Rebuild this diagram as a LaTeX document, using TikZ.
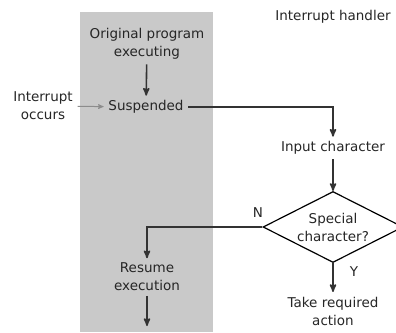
\documentclass[tikz,border=0pt]{standalone}
\usepackage{fontspec}
\setmainfont{DejaVu Sans}
\usetikzlibrary{arrows,shapes.geometric}

\begin{document}
\begin{tikzpicture}[->,>=stealth',x=1pt,y=-1pt,line width=1.6pt,color=black!80,
                    font=\fontsize{13.5}{18}\selectfont]
    \tikzstyle{every node}=[text=black!85,align=center,inner sep=4pt]
    \tikzstyle{decision}=[diamond,draw=black,line width=1.2pt,fill=white,
                          shape aspect=2,inner sep=0pt,
                          minimum width=140pt,minimum height=71pt]

    \useasboundingbox (0,0) rectangle (396,332);
    \fill[black!21] (80,12) rectangle (213,332);

    \node (orig)    at (147,44)  {Original program\\executing};
    \node (susp)    at (146,107) {Suspended};
    \node (intr)    at (43,106)  {Interrupt\\occurs};
    \node (handler) at (333,17)  {Interrupt handler};
    \node (input)   at (333,148) {Input character};
    \node[decision] (special) at (333,227) {Special\\character?};
    \node (resume)  at (147,277) {Resume\\execution};
    \node (action)  at (333,311) {Take required\\action};
    \node (no)      at (258,213) {N};
    \node (yes)     at (354,272) {Y};
    \coordinate (out) at (147,326);

    \draw (orig) -- (susp);
    \draw[black!45,line width=1pt] (intr) -- (susp);
    \draw (susp) -| (input);
    \draw (input) -- (special);
    \draw (special) -| (resume);
    \draw (special) -- (action);
    \draw (resume) -- (out);
\end{tikzpicture}
\end{document}
